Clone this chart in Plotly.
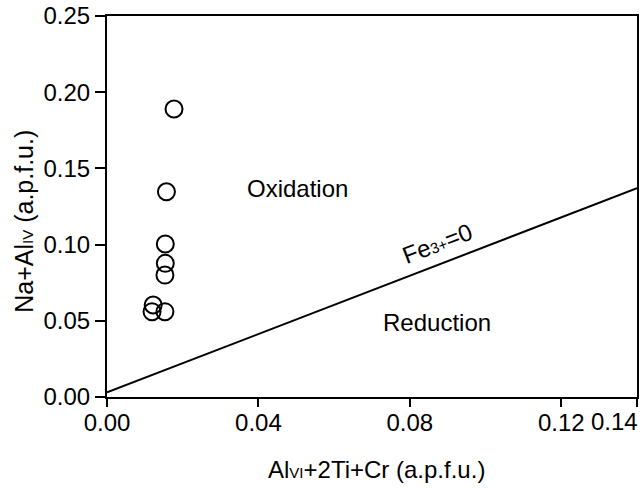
import plotly.graph_objects as go

# Data
x_vals = [0.0177, 0.0157, 0.0154, 0.0154, 0.0153, 0.0122, 0.0119, 0.0153]
y_vals = [0.189, 0.1347, 0.1004, 0.0877, 0.080, 0.0604, 0.056, 0.056]

line_x = [0.0, 0.14]
line_y = [0.003, 0.137]

x_ticks = [0.00, 0.04, 0.08, 0.12, 0.14]
x_ticktext = ["0.00", "0.04", "0.08", "0.12", ""]
x_edge_label = "0.14"
y_ticks = [0.00, 0.05, 0.10, 0.15, 0.20, 0.25]
y_ticktext = ["0.00", "0.05", "0.10", "0.15", "0.20", "0.25"]

FONT = "Liberation Sans, Arial, Helvetica, sans-serif"
SMALL = '<span style="font-size:15px">{}</span>'

fig = go.Figure()
fig.add_trace(go.Scatter(
    x=line_x, y=line_y, mode="lines",
    line=dict(color="black", width=2), showlegend=False, hoverinfo="skip"))
fig.add_trace(go.Scatter(
    x=x_vals, y=y_vals, mode="markers",
    marker=dict(symbol="circle", size=17, color="rgba(0,0,0,0)",
                line=dict(color="black", width=2)),
    showlegend=False))

fig.add_annotation(x=0.0504, y=0.137, text="Oxidation", showarrow=False,
                   font=dict(size=24, color="black", family=FONT))
fig.add_annotation(x=0.0872, y=0.0486, text="Reduction", showarrow=False,
                   font=dict(size=24, color="black", family=FONT))
fig.add_annotation(x=0.0872, y=0.101, text="Fe" + SMALL.format("3+") + "=0",
                   showarrow=False, textangle=-21,
                   font=dict(size=24, color="black", family=FONT))

# last x tick label, kept inside the figure like in the reference
fig.add_annotation(x=x_ticks[-1], y=0, xref="x", yref="paper",
                   text=x_edge_label, showarrow=False,
                   xanchor="right", yanchor="middle", xshift=3, yshift=-24,
                   font=dict(size=24, color="black", family=FONT))

# axis titles
fig.add_annotation(x=0.5, y=0, xref="paper", yref="paper",
                   text="Al" + SMALL.format("VI") + "+2Ti+Cr (a.p.f.u.)",
                   showarrow=False, xanchor="center", yanchor="middle",
                   xshift=4, yshift=-72,
                   font=dict(size=24, color="black", family=FONT))
fig.add_annotation(x=0, y=0.46, xref="paper", yref="paper",
                   text="Na+Al" + SMALL.format("IV") + " (a.p.f.u.)",
                   showarrow=False, textangle=-90,
                   xanchor="center", yanchor="middle", xshift=-83,
                   font=dict(size=25, color="black", family=FONT))

fig.update_layout(
    width=644, height=488,
    margin=dict(l=107, r=7, t=16, b=91),
    paper_bgcolor="white", plot_bgcolor="white",
    font=dict(family=FONT, size=24, color="black"),
    xaxis=dict(
        range=[0, 0.14], tickvals=x_ticks, ticktext=x_ticktext,
        showgrid=False, zeroline=False, automargin=False,
        ticklabelstandoff=-5,
        showline=True, linecolor="black", linewidth=2, mirror=True,
        ticks="outside", ticklen=8, tickwidth=1.5, tickcolor="black",
        tickfont=dict(size=24),
    ),
    yaxis=dict(
        range=[0, 0.25], tickvals=y_ticks, ticktext=y_ticktext,
        showgrid=False, zeroline=False, automargin=False,
        ticklabeloverflow="allow",
        showline=True, linecolor="black", linewidth=2, mirror=True,
        ticks="outside", ticklen=10, tickwidth=1.5, tickcolor="black",
        tickfont=dict(size=24),
    ),
)

# remove the default 8px page margin so the figure fills the window exactly
fig.write_html("out.html",
               config={"displayModeBar": False},
               post_script="document.body.style.margin='0';")
